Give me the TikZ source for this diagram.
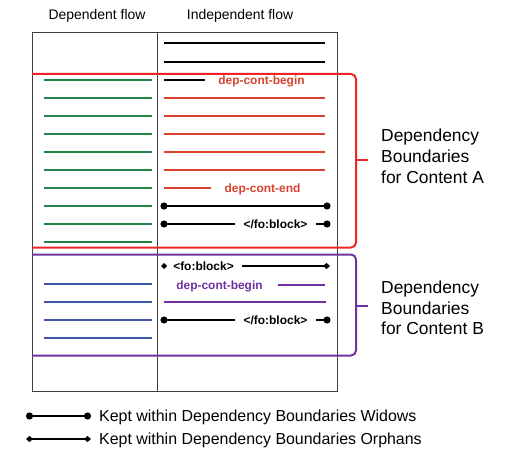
\documentclass[tikz,border=0pt]{standalone}
\usepackage{fontspec}
\setmainfont{Liberation Sans}
\usetikzlibrary{arrows.meta}

\definecolor{depgreen}{RGB}{30,135,70}
\definecolor{bndred}{RGB}{237,35,40}
\definecolor{contred}{RGB}{215,65,45}
\definecolor{bndpurple}{RGB}{112,48,160}
\definecolor{contblue}{RGB}{65,85,175}

\begin{document}
\begin{tikzpicture}[x=1bp, y=-1bp,
    flow/.style={line width=2bp},
    box/.style={line width=0.8bp, draw=black!75},
    bound/.style={line width=2bp, rounded corners=5bp},
    tag/.style={font=\fontsize{12}{14}\selectfont\bfseries, inner sep=0pt, anchor=base},
    widow/.style={flow, {Circle[length=7bp]}-{Circle[length=7bp]}},
    orphan/.style={line width=1.8bp, {Diamond[length=7bp,width=6bp]}-{Diamond[length=7bp,width=6bp]}},
    keytext/.style={font=\fontsize{16}{18}\selectfont, inner sep=0pt, anchor=base west},
    sidetext/.style={font=\fontsize{17.5}{20.7}\selectfont, align=left, inner sep=0pt, anchor=north west}]
        \useasboundingbox (0,0) rectangle (510,454);

        % Headers:
        \node [font=\fontsize{14}{16}\selectfont, inner sep=0pt, anchor=base] (hdep) at (97,20) {Dependent flow};
        \node [font=\fontsize{14}{16}\selectfont, inner sep=0pt, anchor=base] (hind) at (240,20) {Independent flow};

        % Page box:
        \draw [box] (32,32) rectangle (337,391);
        \draw [box] (157,32) -- (157,391);

        % Dependent flow lines:
        \foreach \y in {80,98,...,242}{%
        \draw [flow, depgreen] (44,\y) -- (152,\y);
        }
        \foreach \y in {284,302,320,338}{%
        \draw [flow, contblue] (44,\y) -- (152,\y);
        }

        % Independent flow, content A:
        \draw [flow] (164,43) -- (325,43);
        \draw [flow] (164,62) -- (325,62);
        \draw [flow] (164,80) -- (205,80);
        \node [tag, text=contred] (beginA) at (261.5,84.2) {dep-cont-begin};
        \foreach \y in {98,116,...,170}{%
        \draw [flow, contred] (164,\y) -- (325,\y);
        }
        \draw [flow, contred] (164,188) -- (211,188);
        \node [tag, text=contred] (endA) at (262.5,192.2) {dep-cont-end};
        \draw [widow] (160.5,206) -- (330.5,206);
        \node [tag] (closeA) at (275.5,228.2) {</fo:block>};
        \draw [flow, {Circle[length=7bp]}-] (160.5,224) -- (235,224);
        \draw [flow, -{Circle[length=7bp]}] (316,224) -- (330.5,224);

        % Independent flow, content B:
        \fill (164,263) -- (167,266) -- (164,269) -- (161,266) -- cycle;
        \node [tag] (openB) at (203.5,270.2) {<fo:block>};
        \draw [line width=1.8bp, -{Diamond[length=7bp,width=6bp]}] (242,266) -- (330,266);
        \node [tag, text=bndpurple] (beginB) at (219.5,289.2) {dep-cont-begin};
        \draw [flow, bndpurple] (278,285) -- (325,285);
        \draw [flow, bndpurple] (164,302) -- (326,302);
        \node [tag] (closeB) at (275.5,324.2) {</fo:block>};
        \draw [flow, {Circle[length=7bp]}-] (160.5,320) -- (235,320);
        \draw [flow, -{Circle[length=7bp]}] (316,320) -- (330.5,320);

        % Boundaries:
        \draw [bound, bndred] (32,74) -- (356,74) -- (356,247.5) -- (32,247.5);
        \draw [flow, bndred] (356,160.5) -- (368,160.5);
        \draw [bound, bndpurple] (32,254.5) -- (356,254.5) -- (356,355.5) -- (32,355.5);
        \draw [flow, bndpurple] (356,305.5) -- (368,305.5);
        \node [sidetext] (labA) at (381,129) {Dependency\\Boundaries\\for Content A};
        \node [sidetext] (labB) at (381,280.7) {Dependency\\Boundaries\\for Content B};

        % Key:
        \node [keytext] (keyW) at (99,421.7) {Kept within Dependency Boundaries Widows};
        \node [keytext] (keyO) at (99,444.7) {Kept within Dependency Boundaries Orphans};
        \draw [widow] (26,416) -- (91,416);
        \draw [orphan] (26,439) -- (91,439);

    \end{tikzpicture}
\end{document}
